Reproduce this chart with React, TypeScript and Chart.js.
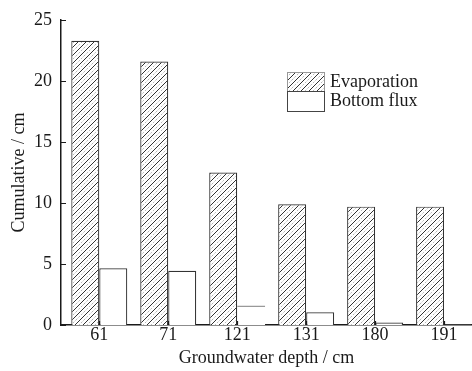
import React, { useEffect, useRef } from 'react';
import { Chart, registerables } from 'chart.js';

Chart.register(...registerables);

const categories = ['61', '71', '121', '131', '180', '191'];
const evaporation = [23.3, 21.6, 12.5, 9.9, 9.7, 9.7];
const bottomFlux = [4.65, 4.45, 1.6, 1.05, 0.2, 0.05];
const yTicks = [0, 5, 10, 15, 20, 25];
const seriesNames = ['Evaporation', 'Bottom flux'];
const xTitle = 'Groundwater depth / cm';
const yTitle = 'Cumulative / cm';

const FONT = "'Liberation Serif', 'Times New Roman', serif";
const INK = '#1a1a1a';

function makeHatch(): CanvasPattern | string {
  const c = document.createElement('canvas');
  c.width = 8;
  c.height = 8;
  const g = c.getContext('2d');
  if (!g) return '#ccc';
  g.fillStyle = '#fff';
  g.fillRect(0, 0, 8, 8);
  g.strokeStyle = 'rgba(175,175,175,1)';
  g.lineWidth = 0.9;
  g.setLineDash([2, 1.5]);
  g.beginPath();
  g.moveTo(-4, 8);
  g.lineTo(4, 0);
  g.moveTo(4, 8);
  g.lineTo(12, 0);
  g.stroke();
  g.setLineDash([]);
  g.strokeStyle = '#333';
  g.lineWidth = 1;
  g.beginPath();
  g.moveTo(-1, 9);
  g.lineTo(9, -1);
  g.moveTo(-1, 1);
  g.lineTo(1, -1);
  g.moveTo(7, 9);
  g.lineTo(9, 7);
  g.stroke();
  return g.createPattern(c, 'repeat') || '#ccc';
}

export default function App() {
  const ref = useRef<HTMLCanvasElement | null>(null);

  useEffect(() => {
    document.body.style.margin = '0';
    const canvas = ref.current;
    if (!canvas) return;
    const hatch = makeHatch();

    const innerTicks = {
      id: 'innerTicks',
      afterDraw(chart: any) {
        const { ctx, chartArea, scales } = chart;
        const y = scales.y;
        const x = scales.x;
        ctx.save();
        ctx.strokeStyle = INK;
        ctx.lineWidth = 1.2;
        ctx.beginPath();
        yTicks.forEach((v) => {
          const py = Math.round(y.getPixelForValue(v)) + 0.5;
          ctx.moveTo(chartArea.left, py);
          ctx.lineTo(chartArea.left + 5, py);
        });
        categories.forEach((_, i) => {
          const px = Math.round(x.getPixelForValue(i)) + 0.5;
          ctx.moveTo(px, chartArea.bottom);
          ctx.lineTo(px, chartArea.bottom - 4);
        });
        ctx.stroke();

        // legend
        const lx = 287;
        const lw = 37;
        const ly = 72;
        const lh = 19;
        ctx.fillStyle = hatch as any;
        ctx.fillRect(lx, ly, lw, lh);
        ctx.strokeStyle = '#999';
        ctx.lineWidth = 1;
        ctx.strokeRect(lx + 0.5, ly + 0.5, lw, lh);
        ctx.fillStyle = '#fff';
        ctx.fillRect(lx, ly + lh, lw, lh + 1);
        ctx.strokeStyle = '#444';
        ctx.strokeRect(lx + 0.5, ly + lh + 0.5, lw, lh + 1);
        ctx.fillStyle = INK;
        ctx.font = `18px ${FONT}`;
        ctx.textBaseline = 'middle';
        ctx.textAlign = 'left';
        ctx.fillText(seriesNames[0], lx + lw + 6, ly + lh / 2 + 1);
        ctx.fillText(seriesNames[1], lx + lw + 6, ly + lh * 1.5 + 1);
        ctx.restore();
      },
    };

    const chart = new Chart(canvas, {
      type: 'bar',
      data: {
        datasets: [
          {
            label: seriesNames[0],
            data: categories.map((_, i) => ({ x: i, y: evaporation[i] })) as any,
            backgroundColor: hatch as any,
            borderColor: '#333',
            borderWidth: 1.2,
            categoryPercentage: 0.812,
            barPercentage: 1,
          },
          {
            label: seriesNames[1],
            data: categories.map((_, i) => ({ x: i, y: bottomFlux[i] })) as any,
            backgroundColor: '#fff',
            borderColor: categories.map((_, i) => (i === 2 ? '#999' : '#333')),
            borderWidth: categories.map((_, i) =>
              i === 2 ? { top: 1.6, left: 0, right: 0, bottom: 0 } : 1.2
            ) as any,
            categoryPercentage: 0.812,
            barPercentage: 1,
          },
        ],
      },
      options: {
        responsive: false,
        animation: false,
        layout: { padding: { top: 20, right: 0, left: 0, bottom: 0 } },
        plugins: {
          legend: { display: false },
          tooltip: { enabled: false },
        },
        scales: {
          x: {
            type: 'linear',
            offset: false,
            min: -0.555,
            max: 5.405,
            afterFit: (s: any) => {
              s.height = 46;
            },
            afterBuildTicks: (s: any) => {
              s.ticks = categories.map((_, i) => ({ value: i }));
            },
            grid: { display: false, drawTicks: false, offset: false },
            border: { display: true, color: INK, width: 1.5 },
            ticks: {
              padding: -1,
              color: INK,
              font: { family: FONT, size: 18 },
              autoSkip: false,
              maxRotation: 0,
              callback: (v: any) => categories[Math.round(Number(v))] ?? '',
            },
            title: {
              display: true,
              text: xTitle,
              color: INK,
              font: { family: FONT, size: 18 },
              padding: { top: 0, bottom: 1.6 },
            },
          },
          y: {
            min: 0,
            max: 25,
            afterFit: (s: any) => {
              s.width = 61;
            },
            afterBuildTicks: (s: any) => {
              s.ticks = yTicks.map((v) => ({ value: v }));
            },
            grid: { display: false, drawTicks: false },
            border: { display: true, color: INK, width: 1.5 },
            ticks: {
              padding: 9,
              color: INK,
              font: { family: FONT, size: 18 },
            },
            title: {
              display: true,
              text: yTitle,
              color: INK,
              font: { family: FONT, size: 18 },
              padding: { top: 8.8, bottom: 0 },
            },
          },
        },
      },
      plugins: [innerTicks],
    });
    return () => chart.destroy();
  }, []);

  return (
    <div style={{ width: 472, height: 371 }}>
      <canvas ref={ref} width={472} height={371} style={{ display: 'block' }} />
    </div>
  );
}
